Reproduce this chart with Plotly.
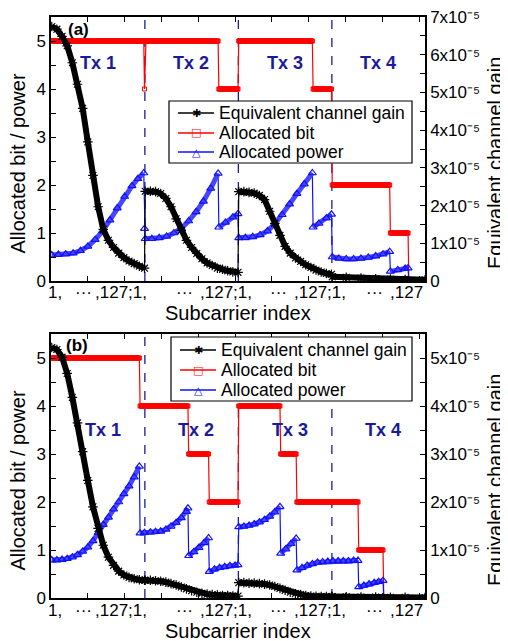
import plotly.graph_objects as go

FONT = "Liberation Sans, Arial, sans-serif"
SYMFONT = "DejaVu Sans, sans-serif"
RED = "#ff0000"
BLUE = "#1010ff"
BLUE_BAND = "#4646ff"
BLACK = "#000000"
NAVY = "#1a1a9c"

N_SUB = 127          # subcarriers per transmitter
N_TX = 4
GAIN_UNIT = 1e-5

# ======================= Panel (a) =======================
# allocated bits: (bit value, number of consecutive subcarriers) for each Tx
bits_a_runs = [
    [(5, 126), (4, 1)],
    [(5, 100), (4, 27)],
    [(5, 101), (4, 26)],
    [(2, 79), (1, 25), (0, 23)],
]
# allocated power: segments (global subcarrier index, value)
power_a_idx = [
    [1, 10, 20, 30, 40, 50, 60, 70, 80, 90, 100, 110, 118, 126],
    [127],
    [128, 137, 147, 157, 167, 177, 187, 197, 207, 217, 227],
    [228, 237, 247, 254],
    [255, 264, 274, 284, 294, 304, 314, 324, 334, 344, 355],
    [356, 364, 374, 381],
    [382, 391, 401, 411, 421, 431, 441, 451, 460],
    [461, 471, 481, 485],
    [486, 508],
]
power_a_val = [
    [0.54, 0.55, 0.56, 0.58, 0.63, 0.72, 0.86, 1.04, 1.27, 1.52, 1.76, 1.98, 2.13, 2.25],
    [1.09],
    [0.88, 0.88, 0.90, 0.93, 1.00, 1.10, 1.25, 1.44, 1.66, 1.93, 2.24],
    [1.12, 1.22, 1.33, 1.40],
    [0.90, 0.90, 0.92, 0.96, 1.04, 1.19, 1.38, 1.60, 1.82, 2.02, 2.25],
    [1.12, 1.20, 1.31, 1.39],
    [0.50, 0.47, 0.46, 0.46, 0.47, 0.49, 0.52, 0.56, 0.61],
    [0.20, 0.23, 0.26, 0.27],
    [0.0, 0.0],
]
# equivalent channel gain (x1e-5), local subcarrier index inside each Tx
gain_a_local = [
    [1, 8, 15, 22, 29, 36, 43, 50, 57, 64, 71, 78, 85, 92, 99, 106, 113, 120, 127],
    [1, 8, 15, 22, 29, 36, 43, 50, 57, 64, 71, 78, 85, 92, 99, 106, 113, 120, 127],
    [1, 8, 15, 22, 29, 36, 43, 50, 57, 64, 71, 78, 85, 92, 99, 106, 113, 120, 127],
    [1, 20, 40, 60, 80, 100, 127],
]
gain_a_val = [
    [6.75, 6.68, 6.49, 6.24, 5.79, 5.22, 4.58, 3.69, 2.80, 1.97, 1.37, 1.08, 0.89, 0.74, 0.62, 0.53, 0.46, 0.39, 0.34],
    [2.38, 2.38, 2.37, 2.32, 2.19, 1.97, 1.65, 1.34, 1.08, 0.89, 0.73, 0.59, 0.48, 0.41, 0.34, 0.31, 0.27, 0.24, 0.23],
    [2.37, 2.37, 2.35, 2.33, 2.27, 2.16, 1.85, 1.53, 1.21, 0.92, 0.74, 0.61, 0.52, 0.43, 0.36, 0.29, 0.24, 0.20, 0.18],
    [0.11, 0.10, 0.08, 0.06, 0.05, 0.04, 0.03],
]

# ======================= Panel (b) =======================
bits_b_runs = [
    [(5, 120), (4, 7)],
    [(4, 59), (3, 28), (2, 40)],
    [(4, 57), (3, 22), (2, 48)],
    [(2, 36), (1, 34), (0, 57)],
]
power_b_idx = [
    [1, 8, 15, 22, 29, 36, 43, 50, 57, 64, 71, 78, 85, 92, 99, 106, 113, 120],
    [121, 127, 135, 142, 149, 156, 163, 170, 177, 184, 186],
    [187, 194, 201, 208, 214],
    [215, 222, 229, 236, 243, 250, 254],
    [255, 262, 269, 276, 283, 290, 297, 304, 311],
    [312, 319, 326, 333],
    [334, 341, 348, 355, 362, 369, 376, 383, 390, 397, 404, 411, 417],
    [418, 425, 432, 439, 445, 451],
    [452, 508],
]
power_b_val = [
    [0.79, 0.79, 0.80, 0.82, 0.85, 0.90, 0.97, 1.06, 1.19, 1.36, 1.53, 1.68, 1.85, 2.00, 2.17, 2.33, 2.52, 2.74],
    [1.35, 1.36, 1.37, 1.38, 1.39, 1.43, 1.49, 1.57, 1.67, 1.80, 1.87],
    [0.88, 0.96, 1.05, 1.15, 1.25],
    [0.55, 0.60, 0.63, 0.65, 0.67, 0.68, 0.69],
    [1.48, 1.49, 1.51, 1.54, 1.58, 1.63, 1.70, 1.79, 1.90],
    [0.93, 1.02, 1.13, 1.24],
    [0.58, 0.63, 0.68, 0.71, 0.74, 0.75, 0.76, 0.77, 0.77, 0.77, 0.77, 0.78, 0.78],
    [0.23, 0.26, 0.29, 0.32, 0.34, 0.36],
    [0.0, 0.0],
]
gain_b_local = [
    [1, 8, 15, 22, 29, 36, 43, 50, 57, 64, 71, 78, 85, 92, 99, 106, 113, 120, 127],
    [1, 8, 15, 22, 29, 36, 43, 50, 57, 64, 71, 78, 85, 92, 99, 106, 113, 120, 127],
    [1, 8, 15, 22, 29, 36, 43, 50, 57, 64, 71, 78, 85, 92, 99, 106, 113, 120, 127],
    [1, 20, 40, 60, 80, 100, 127],
]
gain_b_val = [
    [5.22, 5.18, 5.02, 4.68, 4.18, 3.65, 3.05, 2.45, 1.90, 1.45, 1.10, 0.85, 0.68, 0.56, 0.48, 0.43, 0.40, 0.38, 0.37],
    [0.37, 0.37, 0.36, 0.35, 0.33, 0.30, 0.27, 0.23, 0.19, 0.15, 0.12, 0.10, 0.08, 0.07, 0.06, 0.05, 0.05, 0.04, 0.04],
    [0.32, 0.32, 0.31, 0.31, 0.30, 0.29, 0.27, 0.24, 0.20, 0.16, 0.12, 0.09, 0.07, 0.05, 0.04, 0.035, 0.03, 0.03, 0.03],
    [0.03, 0.025, 0.02, 0.02, 0.015, 0.012, 0.01],
]

# axis scales
left_max = 5.5
right_max_a = 7.0      # x1e-5
right_max_b = 5.5      # x1e-5

# tick labels along the subcarrier axis
x_tick_text = ["1,", "···", ",127;1,", "···", ",127;1,", "···", ",127;1,", "···", ",127"]
x_tick_pos = [4.8, 44, 95, 182, 238, 309, 366, 440, 483]

legend_names = ["Equivalent channel gain", "Allocated bit", "Allocated power"]
legend_colors = [BLACK, RED, BLUE]
legend_glyphs = ["✱", "□", "△"]
tx_names = ["Tx 1", "Tx 2", "Tx 3", "Tx 4"]
panel_labels = ["(a)", "(b)"]

X_MAX = N_SUB * N_TX


def expand_bits(runs):
    g, v = [], []
    idx = 1
    for tx_runs in runs:
        for val, cnt in tx_runs:
            for _ in range(cnt):
                g.append(idx)
                v.append(val)
                idx += 1
    return g, v


def join_segments(idx_lists, val_lists):
    xs, ys, xb, yb = [], [], [], []
    for gi, vi in zip(idx_lists, val_lists):
        xs += gi
        ys += vi
        xb += gi + [None]
        yb += vi + [None]
    return xs, ys, xb, yb


def gain_segments(local_lists, val_lists):
    idx, vals = [], []
    for t, (li, vi) in enumerate(zip(local_lists, val_lists)):
        idx.append([t * N_SUB + l for l in li])
        vals.append([v * GAIN_UNIT for v in vi])
    return idx, vals


fig = go.Figure()

panels = [
    dict(xa="x", ya="y", ya2="y2", bits=bits_a_runs,
         pidx=power_a_idx, pval=power_a_val, gl=gain_a_local, gv=gain_a_val),
    dict(xa="x2", ya="y3", ya2="y4", bits=bits_b_runs,
         pidx=power_b_idx, pval=power_b_val, gl=gain_b_local, gv=gain_b_val),
]

for p in panels:
    # allocated bits (red)
    bg, bv = expand_bits(p["bits"])
    fig.add_trace(go.Scatter(x=bg, y=bv, mode="lines+markers", name=legend_names[1],
                             line=dict(color=RED, width=1.2),
                             marker=dict(symbol="square-open", size=4, color=RED, line=dict(width=1, color=RED)),
                             xaxis=p["xa"], yaxis=p["ya"], hoverinfo="skip"))

    # allocated power (blue)
    xs, ys, xb, yb = join_segments(p["pidx"], p["pval"])
    fig.add_trace(go.Scatter(x=xs, y=ys, mode="lines", name=legend_names[2],
                             line=dict(color=BLUE, width=1.2), xaxis=p["xa"], yaxis=p["ya"], hoverinfo="skip"))
    fig.add_trace(go.Scatter(x=xb, y=yb, mode="lines+markers", name=legend_names[2],
                             line=dict(color=BLUE_BAND, width=5),
                             marker=dict(symbol="triangle-up-open", size=7, color=BLUE, line=dict(width=1.2, color=BLUE)),
                             xaxis=p["xa"], yaxis=p["ya"], hoverinfo="skip"))

    # equivalent channel gain (black, right axis)
    gi, gv = gain_segments(p["gl"], p["gv"])
    xs, ys, xb, yb = join_segments(gi, gv)
    fig.add_trace(go.Scatter(x=xs, y=ys, mode="lines", name=legend_names[0],
                             line=dict(color=BLACK, width=1.2), xaxis=p["xa"], yaxis=p["ya2"], hoverinfo="skip"))
    fig.add_trace(go.Scatter(x=xb, y=yb, mode="lines+markers", name=legend_names[0],
                             line=dict(color=BLACK, width=6),
                             marker=dict(symbol="asterisk-open", size=8, color=BLACK, line=dict(width=1.2, color=BLACK)),
                             xaxis=p["xa"], yaxis=p["ya2"], hoverinfo="skip"))

# ---------------- layout ----------------
# the page puts the figure 8 px from the top-left corner of the window
PAGE_OFF = 8
REF_W, REF_H = 508, 641
W, H = REF_W - PAGE_OFF, REF_H - PAGE_OFF
# plot area in window pixels
PX_LEFT, PX_RIGHT, PY_BOTTOM = 51, 425, 598
L = PX_LEFT - PAGE_OFF
R = W - (PX_RIGHT - PAGE_OFF)
T = 17 - PAGE_OFF
B = H - (PY_BOTTOM - PAGE_OFF)
plot_h = H - T - B
plot_w = W - L - R


def py2paper(py):
    return (PY_BOTTOM - py) / plot_h


def px2paper(px):
    return (px - PX_LEFT) / plot_w


dom_a = [py2paper(281), 1.0]
dom_b = [0.0, py2paper(334)]

axis_common = dict(showline=True, linecolor="black", linewidth=1.5, showgrid=False, zeroline=False,
                   ticks="inside", ticklen=5, tickwidth=1.2, tickcolor="black", automargin=False,
                   ticklabeloverflow="allow",
                   tickfont=dict(family=FONT, size=17, color="black"))


def minor_ticks(step):
    return dict(ticks="inside", ticklen=5, tickwidth=1.2, tickcolor="black",
                tickmode="linear", tick0=0, dtick=step, showgrid=False)


SUP = {"-": "⁻", "0": "⁰", "1": "¹", "2": "²", "3": "³", "4": "⁴", "5": "⁵"}


def right_ticks(vmax):
    vals, text = [], []
    for i in range(int(vmax) + 1):
        vals.append(i * GAIN_UNIT)
        text.append("0" if i == 0 else "%dx10%s" % (i, SUP["-"] + SUP["5"]))
    return vals, text


ra_vals, ra_text = right_ticks(right_max_a)
rb_vals, rb_text = right_ticks(right_max_b)
EPS = 1.0005  # keep the top tick label inside the range

fig.update_layout(
    template="none",
    width=W, height=H, margin=dict(l=L, r=R, t=T, b=B, autoexpand=False),
    paper_bgcolor="white", plot_bgcolor="white", showlegend=False,
    font=dict(family=FONT, size=17, color="black"),
    xaxis=dict(domain=[0, 1], anchor="y", range=[0, X_MAX], tickmode="linear", tick0=0, dtick=50,
               showticklabels=False, mirror="ticks", **axis_common),
    yaxis=dict(domain=dom_a, anchor="x", range=[0, left_max], tickmode="linear", tick0=0, dtick=1,
               minor=minor_ticks(0.5), **axis_common),
    yaxis2=dict(overlaying="y", side="right", anchor="x", range=[0, right_max_a * GAIN_UNIT * EPS],
                tickmode="array", tickvals=ra_vals, ticktext=ra_text,
                minor=minor_ticks(0.5 * GAIN_UNIT), **axis_common),
    xaxis2=dict(domain=[0, 1], anchor="y3", range=[0, X_MAX], tickmode="linear", tick0=0, dtick=50,
                showticklabels=False, mirror="ticks", **axis_common),
    yaxis3=dict(domain=dom_b, anchor="x2", range=[0, left_max], tickmode="linear", tick0=0, dtick=1,
                minor=minor_ticks(0.5), **axis_common),
    yaxis4=dict(overlaying="y3", side="right", anchor="x2", range=[0, right_max_b * GAIN_UNIT * EPS],
                tickmode="array", tickvals=rb_vals, ticktext=rb_text,
                minor=minor_ticks(0.5 * GAIN_UNIT), **axis_common),
)

shapes = []
annotations = []
panel_layout = [
    # xa, ya, tx label y, tx offset, panel-label (x, y) in data units, tick row y, title y,
    # y-title y, legend box, legend rows  (pixel values are window pixels)
    ("x", "y", 4.54, 0, (38, 5.24), 292.5, 313, 164, (169, 101, 412, 163), [113, 133, 152]),
    ("x2", "y3", 3.51, 7, (35, 5.27), 610, 631, 481, (171, 337, 412, 401), [350, 370, 390]),
]
CM = dict(xanchor="center", yanchor="middle", showarrow=False)
for (xa, ya, tx_y, tx_off, lab_xy, tick_y, title_y, ytitle_y, box, rows), lab in zip(panel_layout, panel_labels):
    for k in range(1, N_TX):
        xb_ = k * N_SUB + 0.5
        shapes.append(dict(type="line", xref=xa, yref=ya + " domain", x0=xb_, x1=xb_, y0=0, y1=1,
                           line=dict(color=NAVY, width=1.3, dash="dash"), layer="below"))
    for k, name in enumerate(tx_names):
        annotations.append(dict(text="<b>%s</b>" % name, xref=xa, yref=ya,
                                x=k * N_SUB + N_SUB / 2 + tx_off, y=tx_y,
                                font=dict(family=FONT, size=18, color=NAVY), **CM))
    annotations.append(dict(text="<b>%s</b>" % lab, xref=xa, yref=ya,
                            x=lab_xy[0], y=lab_xy[1],
                            font=dict(family=FONT, size=17, color="black"), **CM))
    for t, pos in zip(x_tick_text, x_tick_pos):
        annotations.append(dict(text=t, xref=xa, yref="paper", x=pos, y=py2paper(tick_y),
                                font=dict(family=FONT, size=17, color="black"), **CM))
    annotations.append(dict(text="Subcarrier index", xref="paper", yref="paper", x=0.5,
                            y=py2paper(title_y),
                            font=dict(family=FONT, size=20, color="black"), **CM))
    annotations.append(dict(text="Allocated bit / power", xref="paper", yref="paper",
                            x=px2paper(17.5), y=py2paper(ytitle_y), textangle=-90,
                            font=dict(family=FONT, size=20, color="black"), **CM))
    annotations.append(dict(text="Equivalent channel gain", xref="paper", yref="paper",
                            x=px2paper(495), y=py2paper(ytitle_y - 1), textangle=-90,
                            font=dict(family=FONT, size=20, color="black"), **CM))
    # legend box
    bx0, by0, bx1, by1 = box
    shapes.append(dict(type="rect", xref="paper", yref="paper", x0=px2paper(bx0), x1=px2paper(bx1),
                       y0=py2paper(by1), y1=py2paper(by0), line=dict(color="black", width=1.2),
                       fillcolor="white", layer="above"))
    for name, col, glyph, ry in zip(legend_names, legend_colors, legend_glyphs, rows):
        shapes.append(dict(type="line", xref="paper", yref="paper", x0=px2paper(bx0 + 9),
                           x1=px2paper(bx0 + 45), y0=py2paper(ry), y1=py2paper(ry),
                           line=dict(color=col, width=1.3), layer="above"))
        annotations.append(dict(text=glyph, xref="paper", yref="paper", x=px2paper(bx0 + 27),
                                y=py2paper(ry), font=dict(family=SYMFONT, size=11, color=col), **CM))
        annotations.append(dict(text=name, xref="paper", yref="paper", x=px2paper(bx0 + 48),
                                y=py2paper(ry), showarrow=False, xanchor="left", yanchor="middle",
                                font=dict(family=FONT, size=17.5, color="black")))

fig.update_layout(shapes=shapes, annotations=annotations)

fig.write_html("out.html")
